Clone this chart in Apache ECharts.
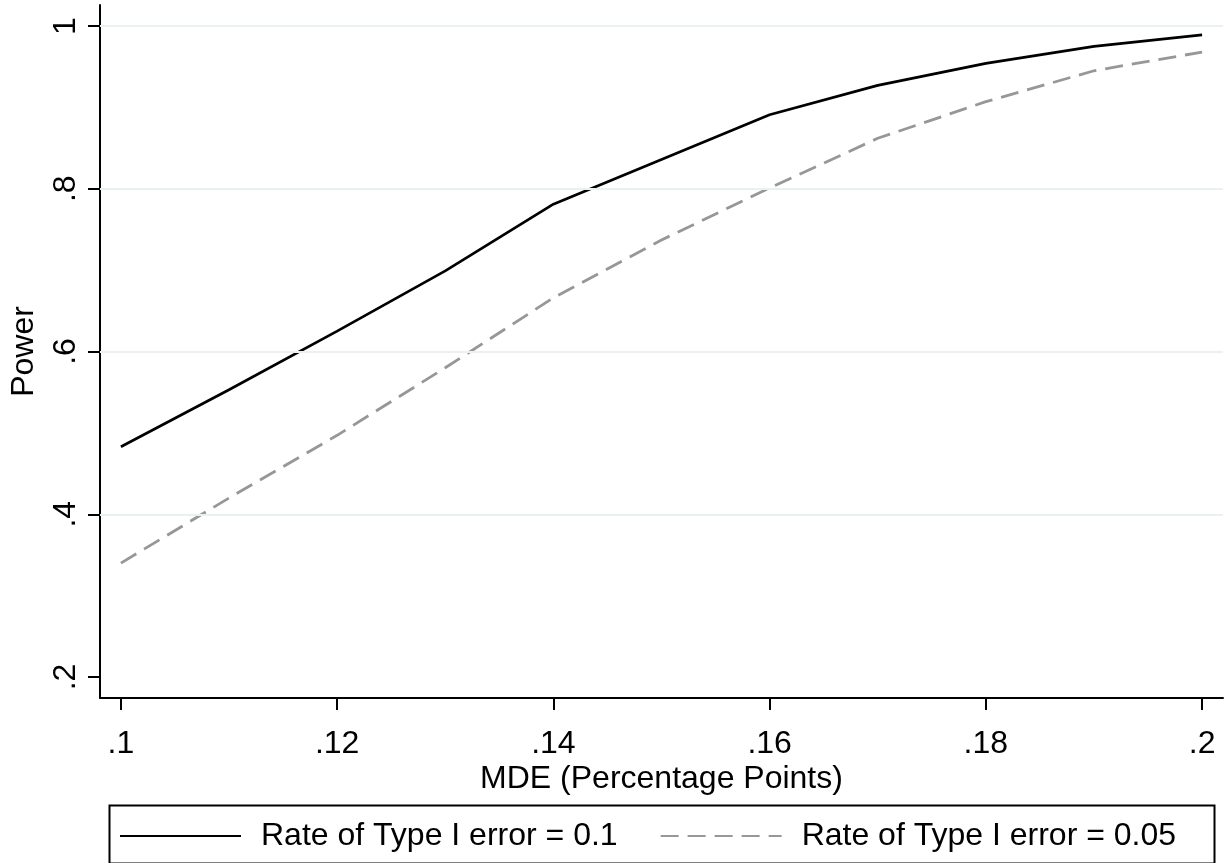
<!DOCTYPE html>
<html>
<head>
<meta charset="utf-8">
<script src="https://cdn.jsdelivr.net/npm/echarts@6/dist/echarts.min.js"></script>
<style>
html,body{margin:0;padding:0;background:#fff;}
#c{width:1230px;height:863px;}
</style>
</head>
<body>
<div id="c"></div>
<script>
const mde = [0.10, 0.11, 0.12, 0.13, 0.14, 0.15, 0.16, 0.17, 0.18, 0.19, 0.20];
const powerAlpha10 = [0.483, 0.553, 0.625, 0.699, 0.781, 0.836, 0.891, 0.927, 0.954, 0.975, 0.989];
const powerAlpha05 = [0.340, 0.420, 0.497, 0.580, 0.666, 0.737, 0.801, 0.862, 0.907, 0.945, 0.968];
const seriesNames = ['Rate of Type I error = 0.1', 'Rate of Type I error = 0.05'];
const xTicks = [0.1, 0.12, 0.14, 0.16, 0.18, 0.2];
const yTicks = [0.2, 0.4, 0.6, 0.8, 1];
const yGridLines = [0.4, 0.6, 0.8, 1];
const xTitle = 'MDE (Percentage Points)';
const yTitle = 'Power';

const FONT = "'Liberation Sans', Arial, Helvetica, sans-serif";
const FS = 32;
const fmt = v => String(+v.toFixed(4)).replace(/^0\./, '.');

const chart = echarts.init(document.getElementById('c'), null, {renderer: 'canvas'});
chart.setOption({
  animation: false,
  backgroundColor: '#ffffff',
  textStyle: {fontFamily: FONT},
  grid: {left: 95, right: 7, top: 5, bottom: 165, containLabel: false},
  xAxis: {
    type: 'value',
    min: 0.1 - 21 / 10860,
    max: 0.2 + 21 / 10860,
    name: xTitle,
    nameLocation: 'middle',
    nameGap: 65,
    nameMoveOverlap: false,
    nameTextStyle: {fontSize: FS, color: '#000', fontFamily: FONT},
    axisLine: {show: true, onZero: false, lineStyle: {color: '#000', width: 2}},
    axisTick: {show: true, customValues: xTicks, length: 12, lineStyle: {color: '#000', width: 2}},
    axisLabel: {customValues: xTicks, formatter: fmt, fontSize: FS, color: '#000', margin: 30, fontFamily: FONT},
    splitLine: {show: false}
  },
  yAxis: {
    type: 'value',
    min: 0.2 - 21 / 813.75,
    max: 1 + 21 / 813.75,
    name: yTitle,
    nameLocation: 'middle',
    nameRotate: 90,
    nameGap: 60,
    nameMoveOverlap: false,
    nameTextStyle: {fontSize: FS, color: '#000', fontFamily: FONT},
    axisLine: {show: true, onZero: false, lineStyle: {color: '#000', width: 2}},
    axisTick: {show: true, customValues: yTicks, length: 12, lineStyle: {color: '#000', width: 2}},
    axisLabel: {customValues: yTicks, formatter: fmt, rotate: 90, fontSize: FS, color: '#000', margin: 18, fontFamily: FONT},
    splitLine: {show: false}
  },
  legend: {
    data: seriesNames,
    left: 114,
    top: 815,
    orient: 'horizontal',
    itemWidth: 121,
    itemHeight: 14,
    itemGap: 42,
    itemStyle: {color: 'rgba(0,0,0,0)', borderWidth: 0, opacity: 0},
    textStyle: {fontSize: FS, color: '#000', fontFamily: FONT, padding: [0, 0, 0, 15]}
  },
  graphic: [{
    type: 'rect',
    left: 107,
    top: 803,
    shape: {width: 1105, height: 58},
    style: {fill: 'none', stroke: '#000', lineWidth: 2},
    silent: true
  }],
  series: [
    {
      type: 'line',
      name: 'grid',
      data: [],
      z: 1,
      silent: true,
      markLine: {
        silent: true,
        symbol: ['none', 'none'],
        label: {show: false},
        lineStyle: {color: '#eaf1f3', width: 2, type: 'solid'},
        data: yGridLines.map(v => ({yAxis: v}))
      }
    },
    {
      type: 'line',
      name: seriesNames[0],
      data: mde.map((x, i) => [x, powerAlpha10[i]]),
      symbol: 'none',
      z: 3,
      lineStyle: {color: '#000', width: 2.7, type: 'solid'},
      itemStyle: {color: '#000'}
    },
    {
      type: 'line',
      name: seriesNames[1],
      data: mde.map((x, i) => [x, powerAlpha05[i]]),
      symbol: 'none',
      z: 3,
      lineStyle: {color: '#979797', width: 2.8, type: [18, 9]},
      itemStyle: {color: '#979797'}
    }
  ]
});
</script>
</body>
</html>
